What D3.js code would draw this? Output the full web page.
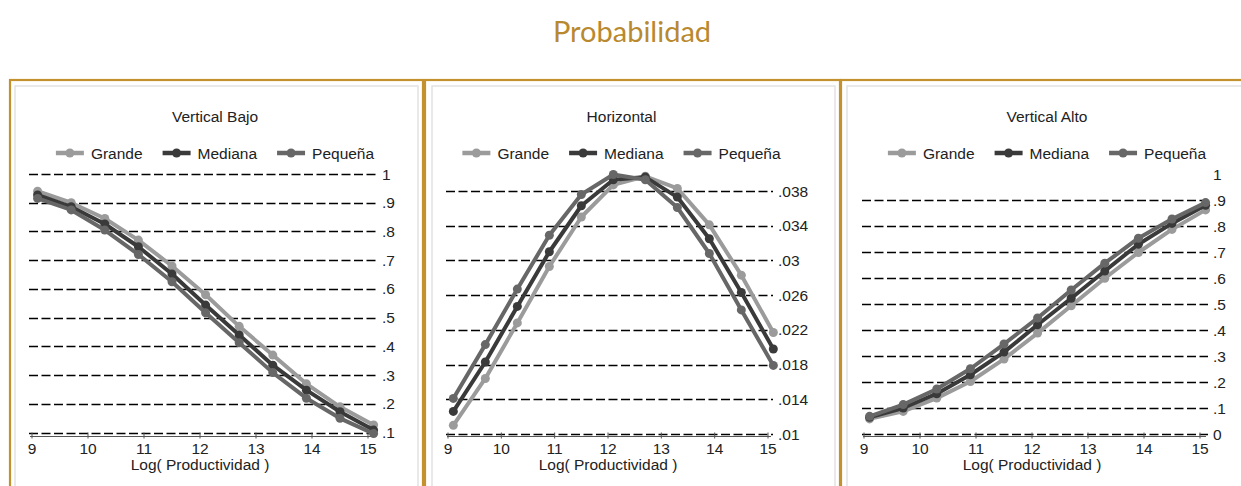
<!DOCTYPE html>
<html>
<head>
<meta charset="utf-8">
<script src="https://cdn.jsdelivr.net/npm/d3@7"></script>
<style>
  body { margin: 0; background: #fff; }
  text { font-family: "Liberation Sans", Arial, sans-serif; }
</style>
</head>
<body>
<svg id="chart"></svg>
<script>
var width = 1241,
  height = 486;

var xValues = [9.1, 9.7, 10.3, 10.9, 11.5, 12.1, 12.7, 13.3, 13.9, 14.5, 15.1];
var xTicks = [9, 10, 11, 12, 13, 14, 15];
var seriesNames = ["Grande", "Mediana", "Pequeña"];
var seriesColors = ["#9b9b9b", "#3a3a3a", "#676767"];

// Vertical Bajo
var bajoGrande = [0.94, 0.90, 0.845, 0.77, 0.68, 0.58, 0.47, 0.37, 0.27, 0.19, 0.127];
var bajoMediana = [0.927, 0.886, 0.826, 0.747, 0.652, 0.544, 0.44, 0.335, 0.248, 0.173, 0.109];
var bajoPequena = [0.915, 0.875, 0.805, 0.72, 0.625, 0.517, 0.413, 0.309, 0.22, 0.15, 0.097];
var bajoTicks = [0.1, 0.2, 0.3, 0.4, 0.5, 0.6, 0.7, 0.8, 0.9, 1];
var bajoLabels = [".1", ".2", ".3", ".4", ".5", ".6", ".7", ".8", ".9", "1"];

// Horizontal
var horGrande = [0.0110, 0.0164, 0.0228, 0.0293, 0.0350, 0.0387, 0.0397, 0.0383, 0.0341, 0.0283, 0.0217];
var horMediana = [0.0126, 0.0183, 0.0247, 0.0310, 0.0363, 0.0393, 0.0396, 0.0373, 0.0325, 0.0263, 0.0198];
var horPequena = [0.0141, 0.0203, 0.0267, 0.0329, 0.0376, 0.0399, 0.0393, 0.0361, 0.0308, 0.0243, 0.0179];
var horTicks = [0.01, 0.014, 0.018, 0.022, 0.026, 0.03, 0.034, 0.038];
var horLabels = [".01", ".014", ".018", ".022", ".026", ".03", ".034", ".038"];

// Vertical Alto
var altoGrande = [0.058, 0.087, 0.138, 0.202, 0.288, 0.388, 0.493, 0.599, 0.698, 0.787, 0.862];
var altoMediana = [0.064, 0.10, 0.155, 0.228, 0.315, 0.42, 0.522, 0.627, 0.73, 0.81, 0.88];
var altoPequena = [0.068, 0.113, 0.173, 0.251, 0.346, 0.446, 0.554, 0.657, 0.753, 0.827, 0.89];
var altoTicks = [0, 0.1, 0.2, 0.3, 0.4, 0.5, 0.6, 0.7, 0.8, 0.9, 1];
var altoLabels = ["0", ".1", ".2", ".3", ".4", ".5", ".6", ".7", ".8", ".9", "1"];
var altoGrid = [0, 0.1, 0.2, 0.3, 0.4, 0.5, 0.6, 0.7, 0.8, 0.9];

var panels = [
  { title: "Vertical Bajo", frame: [10, 423], inner: [15, 418], xr: [32, 368], yd: [0.1, 1], yr: [432.7, 174],
    grid: [29, 377], series: [bajoGrande, bajoMediana, bajoPequena], ticks: bajoTicks, labels: bajoLabels, gridTicks: bajoTicks },
  { title: "Horizontal", frame: [425, 840], inner: [432, 835], xr: [448, 768], yd: [0.01, 0.038], yr: [434, 191],
    grid: [446, 773], series: [horGrande, horMediana, horPequena], ticks: horTicks, labels: horLabels, gridTicks: horTicks },
  { title: "Vertical Alto", frame: [841, 1250], inner: [847, 1250], xr: [864, 1200], yd: [0, 1], yr: [434, 174],
    grid: [862, 1208], series: [altoGrande, altoMediana, altoPequena], ticks: altoTicks, labels: altoLabels, gridTicks: altoGrid }
];

var fs = "15.5px";

var svg = d3.select("#chart")
  .attr("width", width)
  .attr("height", height);

svg.append("text")
  .attr("x", 632)
  .attr("y", 42)
  .attr("text-anchor", "middle")
  .style("font-family", "Lato, 'Noto Sans', sans-serif")
  .style("font-size", "29px")
  .style("fill", "#b8892f")
  .text("Probabilidad");

panels.forEach((p) => {
  var g = svg.append("g");

  // gold frame + grey inner frame
  g.append("rect")
    .attr("x", p.frame[0]).attr("y", 80)
    .attr("width", p.frame[1] - p.frame[0]).attr("height", 420)
    .style("fill", "none").style("stroke", "#c4912f").style("stroke-width", 2.2);
  g.append("rect")
    .attr("x", p.inner[0]).attr("y", 86)
    .attr("width", p.inner[1] - p.inner[0]).attr("height", 420)
    .style("fill", "none").style("stroke", "#e2e2e2").style("stroke-width", 1.5);

  var x = d3.scaleLinear().domain([9, 15]).range(p.xr);
  var y = d3.scaleLinear().domain(p.yd).range(p.yr);
  var cx = (p.grid[0] + p.grid[1]) / 2 + 12;

  g.append("text")
    .attr("x", cx).attr("y", 122)
    .attr("text-anchor", "middle")
    .style("font-size", fs).style("fill", "#222")
    .text(p.title);

  // dashed grid
  g.selectAll(".grid")
    .data(p.gridTicks)
    .enter().append("line")
    .attr("x1", p.grid[0]).attr("x2", p.grid[1])
    .attr("y1", (d) => Math.round(y(d)) + 0.5).attr("y2", (d) => Math.round(y(d)) + 0.5)
    .style("stroke", "#000").style("stroke-width", 1.3)
    .style("stroke-dasharray", "9,3.5");

  // right axis labels
  g.selectAll(".ylab")
    .data(p.ticks)
    .enter().append("text")
    .attr("x", p.grid[1] + 5)
    .attr("y", (d) => y(d) + 5.5)
    .style("font-size", fs).style("fill", "#222")
    .text((d, i) => p.labels[i]);

  // x axis
  var axisY = 436.5;
  g.append("line")
    .attr("x1", p.grid[0] + 1).attr("x2", p.grid[1] - 2)
    .attr("y1", axisY).attr("y2", axisY)
    .style("stroke", "#555").style("stroke-width", 1);
  g.selectAll(".xtick")
    .data(xTicks)
    .enter().append("line")
    .attr("x1", (d) => x(d)).attr("x2", (d) => x(d))
    .attr("y1", axisY - 4).attr("y2", axisY + 2)
    .style("stroke", "#555").style("stroke-width", 1);
  g.selectAll(".xlab")
    .data(xTicks)
    .enter().append("text")
    .attr("x", (d) => x(d)).attr("y", 453.5)
    .attr("text-anchor", "middle")
    .style("font-size", fs).style("fill", "#222")
    .text((d) => d);
  g.append("text")
    .attr("x", (p.xr[0] + p.xr[1]) / 2).attr("y", 469.5)
    .attr("text-anchor", "middle")
    .style("font-size", fs).style("fill", "#222")
    .text("Log( Productividad )");

  // series
  var line = d3.line().x((d, i) => x(xValues[i])).y((d) => y(d));
  p.series.forEach((s, k) => {
    g.append("path")
      .attr("d", line(s))
      .style("fill", "none")
      .style("stroke", seriesColors[k])
      .style("stroke-width", 4)
      .style("stroke-linejoin", "round");
    g.selectAll(".pt" + k)
      .data(s)
      .enter().append("circle")
      .attr("cx", (d, i) => x(xValues[i]))
      .attr("cy", (d) => y(d))
      .attr("r", 4.5)
      .style("fill", seriesColors[k]);
  });

  // legend
  var leg = g.append("g");
  var lx = 0;
  seriesNames.forEach((n, k) => {
    leg.append("line")
      .attr("x1", lx).attr("x2", lx + 28).attr("y1", 0).attr("y2", 0)
      .style("stroke", seriesColors[k]).style("stroke-width", 4.5);
    leg.append("circle")
      .attr("cx", lx + 14).attr("cy", 0).attr("r", 4.5)
      .style("fill", seriesColors[k]);
    var t = leg.append("text")
      .attr("x", lx + 35).attr("y", 5.5)
      .style("font-size", fs).style("fill", "#222")
      .text(n);
    lx += 35 + t.node().getComputedTextLength() + 20;
  });
  var legW = lx - 20;
  leg.attr("transform", "translate(" + (cx - legW / 2) + ",153)");
});
</script>
</body>
</html>
